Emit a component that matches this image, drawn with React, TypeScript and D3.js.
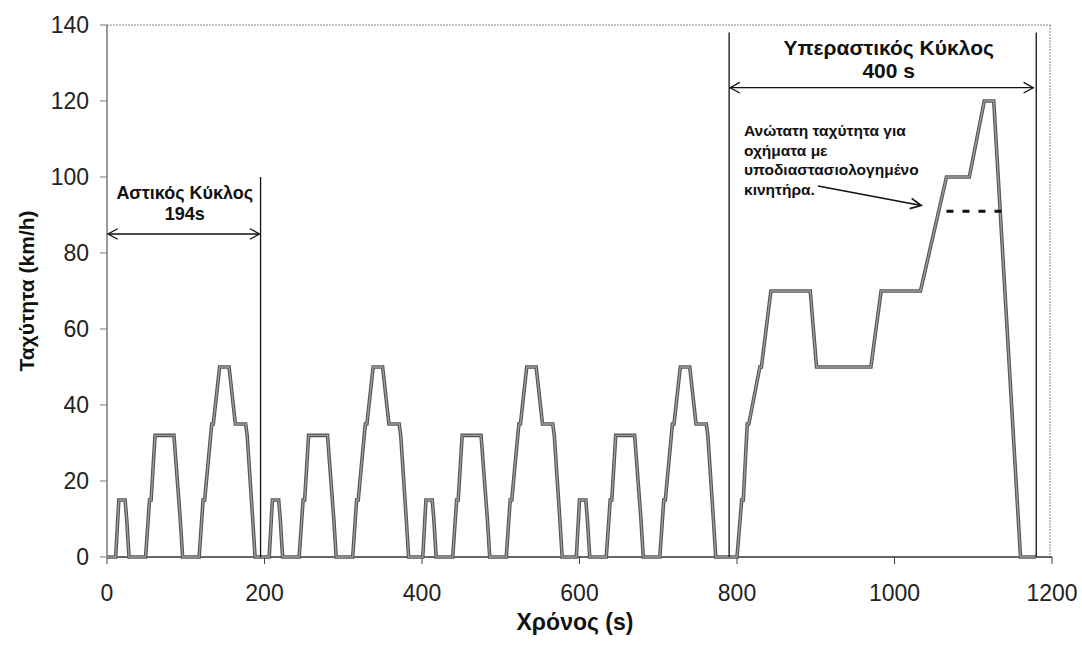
import React from "react";
import * as d3 from "d3";

// ECE-15 urban cycle (one repetition, 195 s)
const urbanTimes = [0, 11, 15, 23, 25, 28, 49, 54, 56, 61, 85, 93, 96, 117, 122, 124, 133, 135, 143, 155, 163, 176, 178, 185, 188, 195];
const urbanSpeeds = [0, 0, 15, 15, 10, 0, 0, 15, 15, 32, 32, 10, 0, 0, 15, 15, 35, 35, 50, 50, 35, 35, 32, 10, 0, 0];
const urbanStarts = [0, 195, 390, 585];

// EUDC extra-urban cycle (400 s)
const eudcTimes = [780, 800, 806, 808, 813, 815, 829, 831, 843, 893, 901, 970, 983, 1033, 1066, 1095, 1114, 1126, 1160, 1180];
const eudcSpeeds = [0, 0, 15, 15, 35, 35, 50, 50, 70, 70, 50, 50, 70, 70, 100, 100, 120, 120, 0, 0];

// Reduced max speed (low-powered vehicles)
const limitTimes = [1066, 1137];
const limitSpeed = 91;

const xTicks = [0, 200, 400, 600, 800, 1000, 1200];
const yTicks = [0, 20, 40, 60, 80, 100, 120, 140];

const noteLines = ["Ανώτατη ταχύτητα για", "οχήματα με", "υποδιαστασιολογημένο", "κινητήρα."];

const W = 1082;
const H = 646;

function arrowHead(x1: number, y1: number, x2: number, y2: number, len = 11, ang = 0.5) {
  const a = Math.atan2(y2 - y1, x2 - x1);
  const p1 = [x2 - len * Math.cos(a - ang), y2 - len * Math.sin(a - ang)];
  const p2 = [x2 - len * Math.cos(a + ang), y2 - len * Math.sin(a + ang)];
  return `M${p1[0]},${p1[1]}L${x2},${y2}L${p2[0]},${p2[1]}`;
}

export default function App() {
  const x = d3.scaleLinear().domain([0, 1200]).range([107, 1052]);
  const y = d3.scaleLinear().domain([0, 140]).range([557, 25]);

  const pts: [number, number][] = [];
  urbanStarts.forEach((s) => {
    urbanTimes.forEach((t, i) => pts.push([s + t, urbanSpeeds[i]]));
  });
  eudcTimes.forEach((t, i) => pts.push([t, eudcSpeeds[i]]));

  const line = d3
    .line<[number, number]>()
    .x((d) => x(d[0]))
    .y((d) => y(d[1]));
  const path = line(pts) || "";

  const font = "'Liberation Sans', Arial, sans-serif";

  const uArrowY = y(85);
  const eArrowY = y(123.5);
  const ux1 = x(0), ux2 = x(195);
  const ex1 = x(790), ex2 = x(1180);
  const annFrom = [818, 186];
  const annTo = [x(1034), y(92.5)];

  return (
    <svg width={W} height={H} style={{ position: "absolute", left: 0, top: 0, background: "#fff" }} fontFamily={font}>
      <rect x={0} y={0} width={W} height={H} fill="#fff" />
      {/* plot frame */}
      <line x1={x(0)} x2={x(1200)} y1={y(140)} y2={y(140)} stroke="#888" strokeWidth={1} strokeDasharray="2,1" />
      <line x1={x(1200) - 2} x2={x(1200) - 2} y1={y(140)} y2={y(0)} stroke="#888" strokeWidth={1} strokeDasharray="2,1" />
      <line x1={x(0)} x2={x(0)} y1={y(140)} y2={y(0)} stroke="#555" strokeWidth={1.2} />
      <line x1={x(0)} x2={x(1200)} y1={y(0)} y2={y(0)} stroke="#333" strokeWidth={1.4} />

      {/* y ticks */}
      {yTicks.map((v) => (
        <g key={"y" + v}>
          <line x1={x(0) - 7} x2={x(0)} y1={y(v)} y2={y(v)} stroke="#777" strokeWidth={1} />
          <text x={89} y={y(v) + 8} fontSize={23} textAnchor="end" fill="#222">
            {v}
          </text>
        </g>
      ))}
      {/* x ticks */}
      {xTicks.map((v) => (
        <g key={"x" + v}>
          <line x1={x(v)} x2={x(v)} y1={y(0)} y2={y(0) + 7} stroke="#444" strokeWidth={1} />
          <text x={x(v)} y={601} fontSize={23} textAnchor="middle" fill="#222">
            {v}
          </text>
        </g>
      ))}

      {/* axis titles */}
      <text transform="translate(34,291) rotate(-90)" fontSize={21} fontWeight="bold" textAnchor="middle" fill="#111">
        Ταχύτητα (km/h)
      </text>
      <text x={575} y={630} fontSize={23} fontWeight="bold" textAnchor="middle" fill="#111">
        Χρόνος (s)
      </text>

      {/* speed trace */}
      <path d={path} fill="none" stroke="#555" strokeWidth={3.6} strokeLinejoin="miter" />
      <path d={path} fill="none" stroke="#9c9c9c" strokeWidth={1.4} strokeLinejoin="miter" />

      {/* urban cycle annotation */}
      <line x1={x(195)} x2={x(195)} y1={y(100)} y2={y(0)} stroke="#111" strokeWidth={1.3} />
      <line x1={ux1 + 1} x2={ux2 - 1} y1={uArrowY} y2={uArrowY} stroke="#111" strokeWidth={1.3} />
      <path d={arrowHead(ux2, uArrowY, ux1 + 1, uArrowY)} fill="none" stroke="#111" strokeWidth={1.3} />
      <path d={arrowHead(ux1, uArrowY, ux2 - 1, uArrowY)} fill="none" stroke="#111" strokeWidth={1.3} />
      <text x={(ux1 + ux2) / 2 + 1} y={199} fontSize={18} fontWeight="bold" textAnchor="middle" fill="#111">
        Αστικός Κύκλος
      </text>
      <text x={(ux1 + ux2) / 2 + 1} y={220} fontSize={18} fontWeight="bold" textAnchor="middle" fill="#111">
        194s
      </text>

      {/* extra-urban cycle annotation */}
      <line x1={ex1} x2={ex1} y1={y(138)} y2={y(0)} stroke="#111" strokeWidth={1.3} />
      <line x1={ex2} x2={ex2} y1={y(138)} y2={y(0)} stroke="#111" strokeWidth={1.3} />
      <line x1={ex1 + 1} x2={ex2 - 3} y1={eArrowY} y2={eArrowY} stroke="#111" strokeWidth={1.3} />
      <path d={arrowHead(ex2, eArrowY, ex1 + 1, eArrowY)} fill="none" stroke="#111" strokeWidth={1.3} />
      <path d={arrowHead(ex1, eArrowY, ex2 - 3, eArrowY)} fill="none" stroke="#111" strokeWidth={1.3} />
      <text x={(ex1 + ex2) / 2 + 6} y={55} fontSize={21} fontWeight="bold" textAnchor="middle" fill="#111">
        Υπεραστικός Κύκλος
      </text>
      <text x={(ex1 + ex2) / 2 + 6} y={78} fontSize={21} fontWeight="bold" textAnchor="middle" fill="#111">
        400 s
      </text>

      {/* reduced max speed note */}
      <g fontSize={15.5} fontWeight="bold" fill="#111">
        {noteLines.map((s, i) => (
          <text key={i} x={744} y={136 + i * 19.5}>
            {s}
          </text>
        ))}
      </g>
      <line x1={annFrom[0]} y1={annFrom[1]} x2={annTo[0]} y2={annTo[1]} stroke="#111" strokeWidth={1.6} />
      <path d={arrowHead(annFrom[0], annFrom[1], annTo[0], annTo[1], 12, 0.45)} fill="none" stroke="#111" strokeWidth={1.6} />
      <line
        x1={x(limitTimes[0])}
        x2={x(limitTimes[1])}
        y1={y(limitSpeed)}
        y2={y(limitSpeed)}
        stroke="#111"
        strokeWidth={3}
        strokeDasharray="7,9"
      />
    </svg>
  );
}
